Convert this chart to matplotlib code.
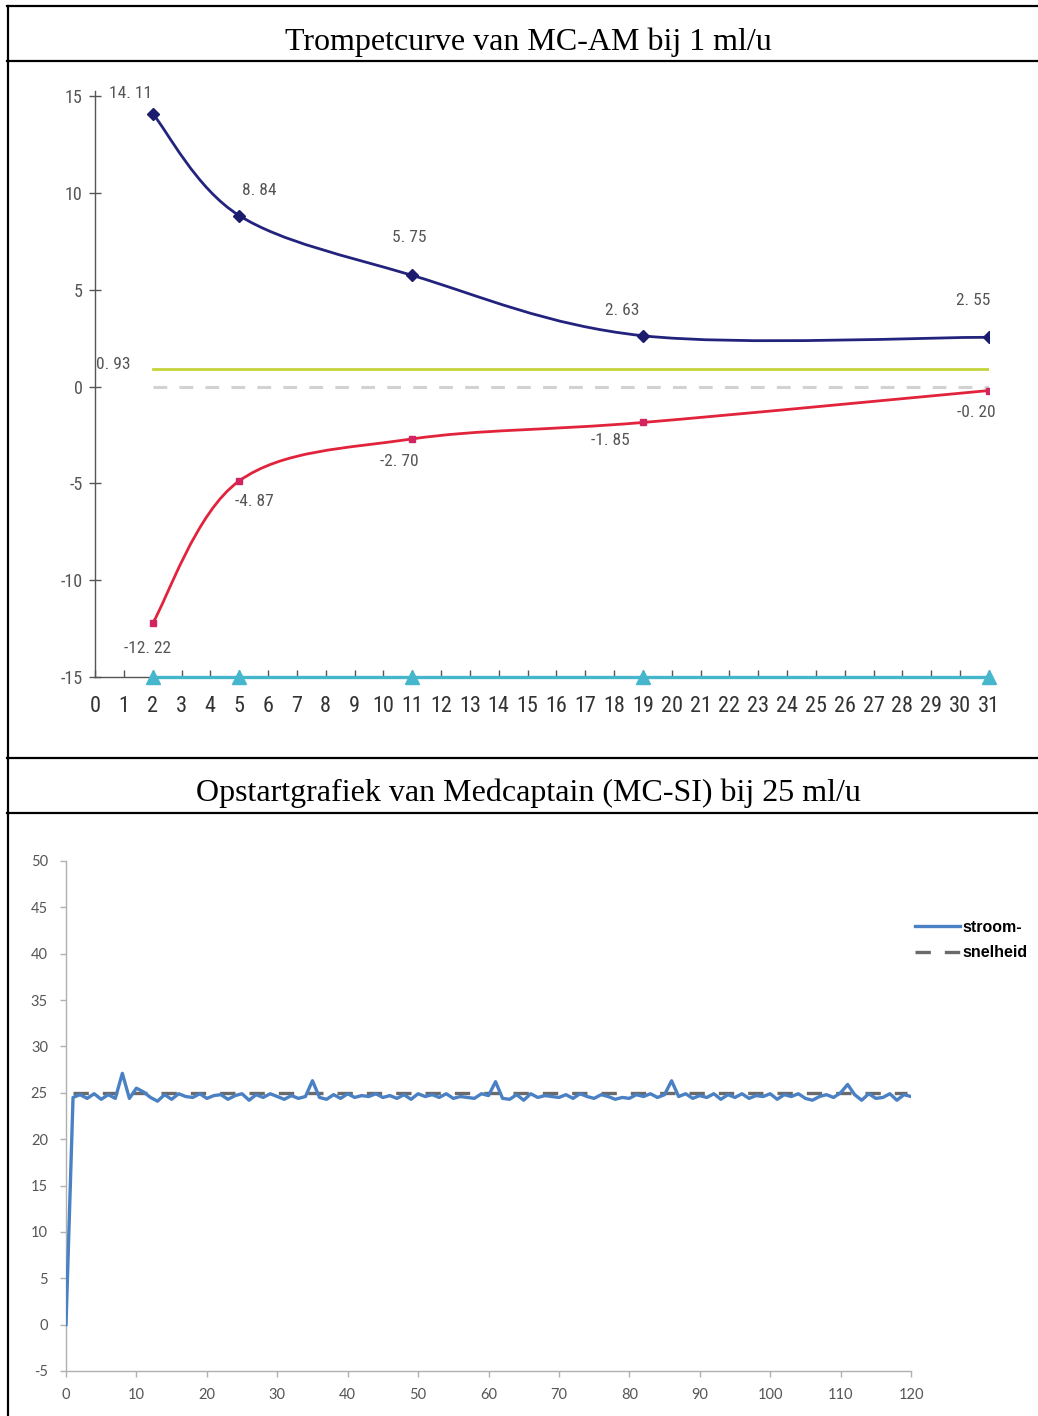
import numpy as np
import matplotlib
matplotlib.use("Agg")
import matplotlib.pyplot as plt
from matplotlib.path import Path
from matplotlib.patches import PathPatch
from matplotlib.lines import Line2D
from matplotlib import font_manager

plt.rcParams["axes.unicode_minus"] = False

# ---------------- data: trumpet curve ----------------
obs_window = [2, 5, 11, 19, 31]
max_dev = [14.11, 8.84, 5.75, 2.63, 2.55]
min_dev = [-12.22, -4.87, -2.70, -1.85, -0.20]
mean_dev = 0.93
x_ticks_top = list(range(0, 32))
y_ticks_top = [-15, -10, -5, 0, 5, 10, 15]

# ---------------- data: start-up graph ----------------
minutes = list(range(0, 121))
flow_rate = [
    0.0, 24.5, 24.8, 24.4, 24.9, 24.3, 24.8, 24.4, 27.1, 24.4,
    25.5, 25.1, 24.5, 24.1, 24.8, 24.3, 24.9, 24.6, 24.5, 24.9,
    24.4, 24.7, 24.8, 24.3, 24.7, 24.9, 24.2, 24.8, 24.5, 24.9,
    24.6, 24.3, 24.7, 24.4, 24.6, 26.3, 24.5, 24.3, 24.8, 24.4,
    24.9, 24.5, 24.7, 24.6, 24.9, 24.5, 24.7, 24.4, 24.8, 24.3,
    24.9, 24.6, 24.8, 24.5, 24.9, 24.4, 24.6, 24.5, 24.4, 24.9,
    24.7, 26.2, 24.4, 24.3, 24.8, 24.2, 24.9, 24.5, 24.7, 24.6,
    24.5, 24.8, 24.4, 24.9, 24.6, 24.4, 24.8, 24.6, 24.3, 24.5,
    24.4, 24.8, 24.6, 24.9, 24.5, 24.8, 26.3, 24.6, 24.9, 24.4,
    24.7, 24.5, 24.9, 24.3, 24.8, 24.5, 24.9, 24.4, 24.7, 24.6,
    24.9, 24.3, 24.8, 24.6, 24.9, 24.4, 24.2, 24.6, 24.8, 24.5,
    25.0, 25.9, 24.8, 24.2, 24.9, 24.4, 24.5, 24.9, 24.2, 24.8,
    24.6,
]
set_rate = 25
set_span = [1, 119.5]
x_ticks_bottom = list(range(0, 121, 10))
y_ticks_bottom = list(range(-5, 51, 5))

W, H = 1038, 1416
fig = plt.figure(figsize=(W / 100, H / 100), dpi=100)

# narrow face for the trumpet-curve texts, if one is available
_names = {f.name for f in font_manager.fontManager.ttflist}
NARROW = "DejaVu Sans"
for cand in ("Liberation Sans Narrow", "Arial Narrow", "Roboto Condensed",
             "Open Sans Condensed", "Noto Sans Display"):
    if cand in _names:
        NARROW = cand
        break


def narrow_props(size, color):
    return dict(family=NARROW, fontsize=size, color=color)


def fx(px):
    return px / W


def fy(py):
    return 1 - py / H


def smooth_path(xs, ys):
    """Cubic Bezier path through the points (spreadsheet-style smoothing)."""
    pts = np.column_stack([xs, ys]).astype(float)
    n = len(pts)
    verts = [pts[0]]
    codes = [Path.MOVETO]
    for i in range(n - 1):
        p0 = pts[i - 1] if i > 0 else pts[i]
        p1, p2 = pts[i], pts[i + 1]
        p3 = pts[i + 2] if i + 2 < n else pts[i + 1]
        verts += [p1 + (p2 - p0) / 6, p2 - (p3 - p1) / 6, p2]
        codes += [Path.CURVE4] * 3
    return Path(verts, codes)


# ---------------- table frame ----------------
frame_kw = dict(color="black", lw=1.6, transform=fig.transFigure)
for yy in (6, 61, 758, 813):
    fig.add_artist(Line2D([fx(7), 1], [fy(yy), fy(yy)], **frame_kw))
fig.add_artist(Line2D([fx(7.5), fx(7.5)], [fy(6), 0], **frame_kw))

title_kw = dict(family="Liberation Serif", fontsize=23, ha="center",
                va="baseline", color="black")
fig.text(fx(528), fy(50), "Trompetcurve van MC-AM bij 1 ml/u", **title_kw)
fig.text(fx(528), fy(801), "Opstartgrafiek van Medcaptain (MC-SI) bij 25 ml/u", **title_kw)

# ---------------- top chart ----------------
y_lo, y_hi = -15, 15.3
ax1 = fig.add_axes([fx(95), fy(677), fx(989) - fx(95), (677 - 90.5) / H])
ax1.set_xlim(0, 31)
ax1.set_ylim(y_lo, y_hi)
for s in ("top", "right"):
    ax1.spines[s].set_visible(False)
for s in ("left", "bottom"):
    ax1.spines[s].set_color("#555555")
    ax1.spines[s].set_linewidth(1.0)

ax1.set_xticks(x_ticks_top)
ax1.set_yticks(y_ticks_top)
ax1.set_xticklabels([str(t) for t in x_ticks_top], **narrow_props(16, "#333333"))
ax1.set_yticklabels([str(t) for t in y_ticks_top], **narrow_props(13, "#555555"))
ax1.tick_params(axis="x", direction="in", length=5, width=1, color="#555555", pad=14)
ax1.tick_params(axis="y", direction="inout", length=8, width=1, color="#555555", pad=5)

ax1.plot([obs_window[0], obs_window[-1]], [0, 0], color="#d2d2d2", lw=2.2,
         dashes=(4.5, 4.0), zorder=2)
ax1.plot([obs_window[0], obs_window[-1]], [mean_dev, mean_dev], color="#c4d43a",
         lw=2.0, zorder=3)
ax1.plot(obs_window, [y_lo] * len(obs_window), color="#45b6cc", lw=2.4,
         marker="^", ms=10, mfc="#45b6cc", mec="#45b6cc", zorder=4, clip_on=False)

ax1.add_patch(PathPatch(smooth_path(obs_window, max_dev), fill=False,
                        ec="#23237d", lw=2.0, zorder=5))
ax1.plot(obs_window, max_dev, ls="none", marker="D", ms=6.5, color="#1c1c6e", zorder=6)
ax1.add_patch(PathPatch(smooth_path(obs_window, min_dev), fill=False,
                        ec="#e2233c", lw=2.0, zorder=5))
ax1.plot(obs_window, min_dev, ls="none", marker="s", ms=4, color="#d22460", zorder=6)

label_kw = dict(textcoords="offset pixels", ha="center", va="center",
                **narrow_props(12.5, "#555555"))
max_offsets = [(-22, 20), (20, 25), (-3, 38), (-21, 25), (-16, 37)]
min_offsets = [(-5, -25), (15, -21), (-13, -23), (-33, -18), (-13, -22)]
for x, v, off in zip(obs_window, max_dev, max_offsets):
    ax1.annotate(f"{v:.2f}".replace(".", ". "), (x, v), xytext=off, **label_kw)
for x, v, off in zip(obs_window, min_dev, min_offsets):
    ax1.annotate(f"{v:.2f}".replace(".", ". "), (x, v), xytext=off, **label_kw)
ax1.annotate(f"{mean_dev:.2f}".replace(".", ". "), (obs_window[0], mean_dev),
             xytext=(-39, 4), **label_kw)

# ---------------- bottom chart ----------------
ax2 = fig.add_axes([fx(66), fy(1371), fx(911) - fx(66), (1371 - 861) / H])
ax2.set_xlim(0, 120)
ax2.set_ylim(-5, 50)
for s in ("top", "right"):
    ax2.spines[s].set_visible(False)
for s in ("left", "bottom"):
    ax2.spines[s].set_color("#b0b0b0")
    ax2.spines[s].set_linewidth(1.0)
ax2.set_xticks(x_ticks_bottom)
ax2.set_yticks(y_ticks_bottom)
ax2.tick_params(direction="out", length=4, width=1, color="#b0b0b0",
                labelsize=10.5, labelcolor="#555555")
ax2.tick_params(axis="x", pad=8)
ax2.tick_params(axis="y", pad=9)
for lab in ax2.get_xticklabels() + ax2.get_yticklabels():
    lab.set_family(["Lato", "DejaVu Sans"])

ax2.plot(set_span, [set_rate, set_rate], color="#6a6a6a", lw=2.4,
         dashes=(4.6, 4.2), label="snelheid", zorder=2)
ax2.plot(minutes, flow_rate, color="#4a80c4", lw=2.4, solid_joinstyle="round",
         label="stroom-", zorder=3)

handles, labels = ax2.get_legend_handles_labels()
leg = fig.legend(handles[::-1], labels[::-1], loc="center left",
                 bbox_to_anchor=(fx(915), fy(940)), frameon=False,
                 prop={"family": "Liberation Sans", "weight": "bold", "size": 11.5},
                 handlelength=2.8, handletextpad=0.15, labelspacing=0.65,
                 borderpad=0, borderaxespad=0)

fig.savefig("out.png", dpi=100)
